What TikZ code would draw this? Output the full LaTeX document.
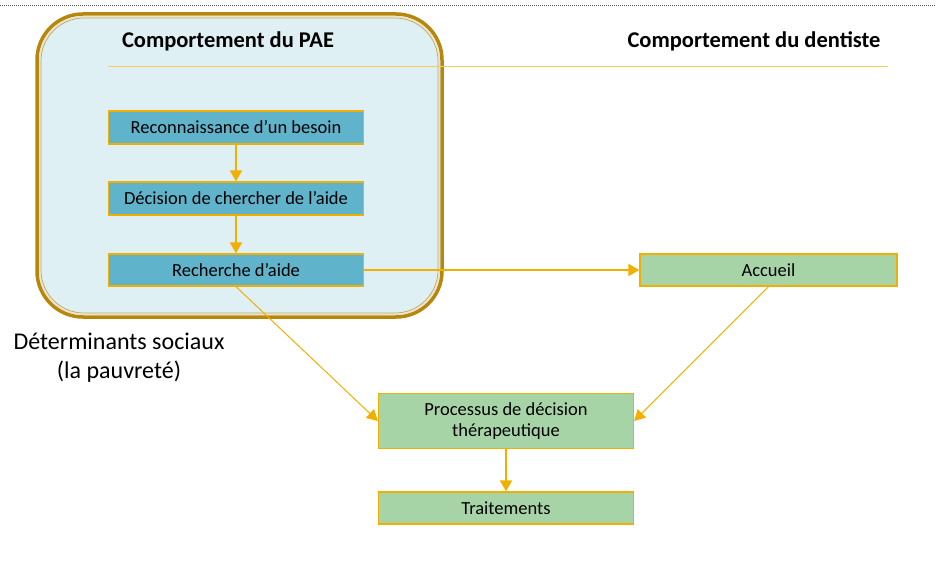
\documentclass[tikz,border=0pt]{standalone}
\usepackage{fontspec}
\setmainfont{Carlito}
\usetikzlibrary{arrows.meta}
\definecolor{gold}{HTML}{F0B000}
\definecolor{darkgold}{HTML}{B8860B}
\definecolor{paleline}{HTML}{F5CE5A}
\definecolor{bluebox}{HTML}{5FB3CB}
\definecolor{greenbox}{HTML}{A7D4A6}
\definecolor{palebg}{HTML}{DFF0F4}
\tikzset{
  stepbox/.style={draw=gold, line width=1.3pt, minimum width=255pt, minimum height=33pt, inner sep=0pt, font=\fontsize{18.5}{21}\selectfont, align=center, text=black},
  bluestep/.style={stepbox, fill=bluebox},
  greenstep/.style={stepbox, fill=greenbox},
  flow/.style={draw=gold, line width=2pt, -{Triangle[length=11pt,width=12pt]}},
  thinflow/.style={draw=gold, line width=1pt, -{Triangle[length=11pt,width=12pt]}},
  heading/.style={font=\fontsize{22.5}{26}\selectfont\bfseries, text=black},
}
\begin{document}
\begin{tikzpicture}[x=1pt,y=-1pt]
\useasboundingbox (0,0) rectangle (936,561);
% top dotted line
\draw[black!70, line width=0.8pt, dash pattern=on 1pt off 1pt] (0,5) -- (936,5);
% big rounded container
\draw[fill=palebg, draw=darkgold, line width=3.5pt, rounded corners=46pt] (37,14) rectangle (442,317);
\draw[draw=darkgold!25!white, line width=1pt, rounded corners=44pt] (39.5,16.5) rectangle (439.5,314.5);
\draw[draw=darkgold!75!white, line width=0.7pt, rounded corners=43pt] (41,18) rectangle (438,313);
% headings
\node[heading] (hpae) at (228,41) {Comportement du PAE};
\node[heading] (hdent) at (754,41) {Comportement du dentiste};
\coordinate (rl) at (108,66);
\coordinate (rr) at (888,66);
\draw[paleline, line width=0.8pt] (rl) -- (rr);
% boxes
\node[bluestep] (recon) at (236,127.5) {Reconnaissance d’un besoin};
\node[bluestep] (decis) at (236,198.5) {Décision de chercher de l’aide};
\node[bluestep, minimum height=32pt] (rech) at (236,270) {Recherche d’aide};
\node[greenstep, minimum width=257pt, minimum height=32pt] (acc) at (768.5,270) {Accueil};
\node[greenstep, minimum height=55pt] (proc) at (506,421) {Processus de décision\\thérapeutique};
\node[greenstep, minimum height=32pt] (trait) at (506,508) {Traitements};
% social determinants
\node[font=\fontsize{24}{29}\selectfont, align=center, text=black] (det) at (119,358) {Déterminants sociaux\\(la pauvreté)};
% connectors
\draw[flow] (recon) -- (decis);
\draw[flow] (decis) -- (rech);
\draw[flow] (rech) -- (acc);
\draw[thinflow] (rech.south) -- (proc.west);
\draw[thinflow] (acc.south) -- (proc.east);
\draw[flow] (proc) -- (trait);
\end{tikzpicture}
\end{document}
